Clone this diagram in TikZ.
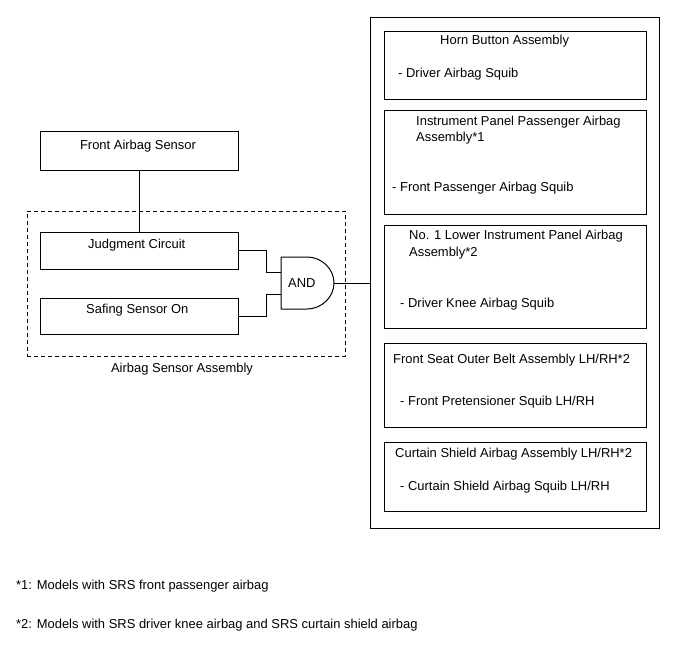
\documentclass[tikz,border=0pt]{standalone}
\usepackage{fontspec}
\setmainfont{Liberation Sans}
\begin{document}
\begin{tikzpicture}[x=1pt,y=-1pt,
  box/.style={draw, line width=1pt, inner sep=0pt, outer sep=0pt},
  dashbox/.style={draw, line width=1pt, dash pattern=on 4pt off 3pt, inner sep=0pt, outer sep=0pt},
  txt/.style={anchor=base west, inner sep=0pt, font=\fontsize{12.95}{15}\selectfont},
  ctxt/.style={anchor=base, inner sep=0pt, font=\fontsize{12.95}{15}\selectfont},
  wire/.style={line width=1pt}]
\fill[white] (0,0) rectangle (688,658);
\useasboundingbox (0,0) rectangle (688,658);

% sensor side
\node[box, minimum width=198pt, minimum height=38pt] (fas) at (139,151) {};
\node[ctxt] (fast) at (138,149.5) {Front Airbag Sensor};
\node[dashbox, minimum width=318pt, minimum height=145pt] (asm) at (186,283.5) {};
\node[ctxt] (asmt) at (182,372.5) {Airbag Sensor Assembly};
\node[box, minimum width=198pt, minimum height=37pt] (jc) at (139,250.5) {};
\node[txt] (jct) at (88,248) {Judgment Circuit};
\node[box, minimum width=198pt, minimum height=36pt] (ss) at (139,316) {};
\node[txt] (sst) at (86,313) {Safing Sensor On};

% AND gate
\coordinate (gin1) at (281,272);
\coordinate (gin2) at (281,294);
\coordinate (gout) at (334,283);
\draw[wire, line join=round] (281,257) -- (307,257)
  .. controls (321.4,257) and (334,268.6) .. (gout)
  .. controls (334,297.4) and (321.4,309) .. (307,309)
  -- (281,309) -- cycle;
\node[txt] (andt) at (288,287) {AND};

\draw[wire] (fas.south) -- (jc.north);
\draw[wire] (jc.east) -- (266,250.5) |- (gin1);
\draw[wire] (ss.east) -- (266,316) |- (gin2);

% squib side
\node[box, minimum width=289pt, minimum height=510pt] (panel) at (514.5,273) {};
\draw[wire] (gout) -- (panel.west |- gout);

\node[box, minimum width=262pt, minimum height=68pt] (b1) at (515,66) {};
\node[txt] (b1a) at (440,45) {Horn Button Assembly};
\node[txt] (b1b) at (398,78) {- Driver Airbag Squib};

\node[box, minimum width=262pt, minimum height=103pt] (b2) at (515,162.5) {};
\node[txt] (b2a) at (416,126) {Instrument Panel Passenger Airbag};
\node[txt] (b2b) at (416,142) {Assembly*1};
\node[txt] (b2c) at (392,191) {- Front Passenger Airbag Squib};

\node[box, minimum width=262pt, minimum height=103pt] (b3) at (515,276.5) {};
\node[txt] (b3a) at (409,239.5) {No. 1 Lower Instrument Panel Airbag};
\node[txt] (b3b) at (409,256) {Assembly*2};
\node[txt] (b3c) at (400,307) {- Driver Knee Airbag Squib};

\node[box, minimum width=262pt, minimum height=84pt] (b4) at (515,385) {};
\node[txt] (b4a) at (393,363.5) {Front Seat Outer Belt Assembly LH/RH*2};
\node[txt] (b4b) at (400,405) {- Front Pretensioner Squib LH/RH};

\node[box, minimum width=262pt, minimum height=69pt] (b5) at (515,476.5) {};
\node[txt] (b5a) at (395,457.5) {Curtain Shield Airbag Assembly LH/RH*2};
\node[txt] (b5b) at (400,490.5) {- Curtain Shield Airbag Squib LH/RH};

% notes
\node[txt] (n1) at (16,589.5) {*1: Models with SRS front passenger airbag};
\node[txt] (n2) at (16,628) {*2: Models with SRS driver knee airbag and SRS curtain shield airbag};
\end{tikzpicture}
\end{document}
